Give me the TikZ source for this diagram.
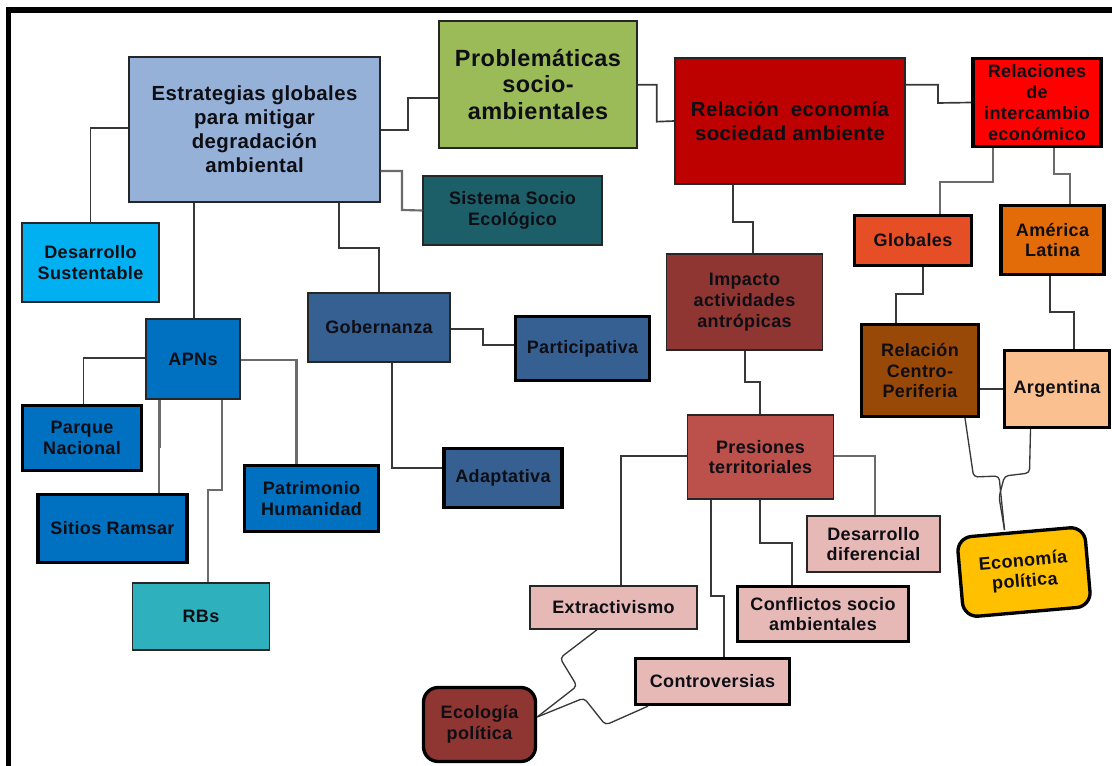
\documentclass[tikz,border=0pt]{standalone}
\usepackage{fontspec}
\setmainfont{Liberation Sans}[LetterSpace=2]
\usetikzlibrary{calc}
\definecolor{cEst}{HTML}{95B1D8}
\definecolor{cPro}{HTML}{9BBB59}
\definecolor{cSus}{HTML}{00B0F0}
\definecolor{cSis}{HTML}{1D5F69}
\definecolor{cGob}{HTML}{376092}
\definecolor{cApn}{HTML}{0070C0}
\definecolor{cRbs}{HTML}{2FB0BD}
\definecolor{cRel}{HTML}{BD0000}
\definecolor{cRin}{HTML}{FF0000}
\definecolor{cGlo}{HTML}{E64F25}
\definecolor{cAme}{HTML}{E36C09}
\definecolor{cImp}{HTML}{8F3632}
\definecolor{cCpe}{HTML}{984807}
\definecolor{cArg}{HTML}{FAC08F}
\definecolor{cPre}{HTML}{BC504B}
\definecolor{cPnk}{HTML}{E6B9B6}
\definecolor{cEpo}{HTML}{FFC000}
\definecolor{cTxt}{HTML}{0E0E14}
\tikzset{
  sized/.style 2 args={minimum width=#1*0.75pt,minimum height=#2*0.75pt},
  bx/.style={draw=black!85,line width=1.1pt,inner sep=0pt,align=center,text=cTxt,font=\fontsize{13.5}{15.6}\selectfont\bfseries},
  hv/.style={bx,draw=black,line width=2.5pt},
  rnd/.style={hv,rounded corners=11pt},
  big/.style={font=\fontsize{15.3}{18}\selectfont\bfseries},
  huge/.style={font=\fontsize{17.6}{20}\selectfont\bfseries},
  conn/.style={draw=black!78,line width=1.25pt,line join=miter},
  pale/.style={draw=black!58,line width=1.6pt},
  wob/.style={conn,rounded corners=3pt,line width=1pt}
}
\begin{document}
\begin{tikzpicture}[x=0.75pt,y=-0.75pt]
\useasboundingbox (0,0) rectangle (1112,766);
\coordinate (fa) at (8.5,766);
\coordinate (fb) at (8.5,10);
\coordinate (fc) at (1112,10);
\draw[black,line width=4.2pt] (fa) -- (fb) -- (fc);
\node[bx,big,fill=cEst,sized={251}{145}] (est) at (254.5,129.5) {Estrategias globales\\para mitigar\\degradación\\ambiental};
\node[bx,huge,fill=cPro,sized={198}{127}] (pro) at (538,84.5) {Problemáticas\\socio-\\ambientales};
\node[bx,fill=cSus,sized={137}{79}] (dsus) at (90.5,262.5) {Desarrollo\\Sustentable};
\node[bx,fill=cSis,sized={179}{69}] (sis) at (512.5,210.5) {Sistema Socio\\Ecológico};
\node[bx,fill=cGob,sized={142}{69}] (gob) at (379,327.5) {Gobernanza};
\node[bx,fill=cApn,sized={94}{80}] (apn) at (193,359) {APNs};
\node[hv,fill=cApn,sized={119}{65}] (par) at (82,438) {Parque\\Nacional};
\node[hv,fill=cApn,sized={149}{68}] (sit) at (112.5,528.5) {Sitios Ramsar};
\node[hv,fill=cApn,sized={134}{66}] (pat) at (311.5,498.5) {Patrimonio\\Humanidad};
\node[bx,fill=cRbs,sized={137}{67}] (rbs) at (201,616.5) {RBs};
\node[hv,fill=cGob,sized={134}{64}] (part) at (582.5,348.5) {Participativa};
\node[hv,fill=cGob,sized={118}{59}] (ada) at (503,478) {Adaptativa};
\node[rnd,fill=cImp,sized={112}{74}] (eco) at (479.5,724.5) {Ecología\\política};
\node[bx,fill=cPre,sized={146}{84}] (pre) at (760.5,457) {Presiones\\territoriales};
\node[bx,fill=cPnk,sized={167}{43}] (ext) at (613.5,607.5) {Extractivismo};
\node[hv,fill=cPnk,sized={171}{55}] (con) at (823,614) {Conflictos socio\\ambientales};
\node[hv,fill=cPnk,sized={154}{46}] (ctr) at (712.5,681.5) {Controversias};
\node[bx,fill=cPnk,sized={133}{56}] (ddi) at (873.5,544) {Desarrollo\\diferencial};
\node[rnd,fill=cEpo,rotate=5,sized={128}{80}] (epo) at (1024,572) {Economía\\política};
\node[bx,big,fill=cRel,sized={230}{126}] (rel) at (790,121) {Relación\ \ economía\\sociedad ambiente};
\node[hv,fill=cRin,sized={128}{88}] (rin) at (1037,102.5) {Relaciones\\de\\intercambio\\económico};
\node[hv,fill=cGlo,sized={117}{50}] (glo) at (913,240.5) {Globales};
\node[hv,fill=cAme,sized={103}{69}] (ame) at (1052.5,240) {América\\Latina};
\node[bx,fill=cImp,sized={156}{96}] (imp) at (744.5,302) {Impacto\\actividades\\antrópicas};
\node[hv,fill=cCpe,sized={117}{92}] (cpe) at (920,370.5) {Relación\\Centro-\\Periferia};
\node[hv,fill=cArg,sized={105}{77}] (arg) at (1057,389) {Argentina};
% connectors
\draw[conn] (est.east |- 0,130) -- (408,130) -- (408,98) -- (pro.west |- 0,98);
\draw[conn] (est.west |- 0,128) -- (90.5,128) -- (dsus.north);
\draw[conn] (est.south -| 194,0) -- (apn.north -| 194,0);
\draw[conn] (est.south -| 339,0) -- (339,248) -- (379,248) -- (gob.north);
\draw[conn,pale] (est.east |- 0,171) -- (402,171) -- (402,210) -- (sis.west);
\draw[conn] (apn.west |- 0,358) -- (83.5,358) -- (par.north -| 83.5,0);
\draw[conn,pale] (apn.south -| 159.5,0) -- (159.5,447) -- (159,447) -- (sit.north -| 159,0);
\draw[conn,pale] (apn.south -| 222,0) -- (222,490) -- (208,490) -- (rbs.north -| 208,0);
\draw[conn,pale] (apn.east |- 0,360) -- (296.5,360) -- (pat.north -| 296.5,0);
\draw[conn] (gob.east |- 0,329) -- (483,329) -- (483,345) -- (part.west |- 0,345);
\draw[conn] (gob.south -| 392,0) -- (392,468) -- (ada.west |- 0,468);
\draw[conn] (pro.east |- 0,84.7) -- (656.7,84.7) -- (656.7,121.7) -- (rel.west);
\draw[conn] (rel.east |- 0,84.7) -- (938,84.7) -- (938,103) -- (rin.west);
\draw[conn] (rel.south -| 733,0) -- (733,222) -- (753,222) -- (imp.north -| 753,0);
\draw[conn,pale] (rin.south -| 992.7,0) -- (992.7,181.7) -- (940,181.7) -- (glo.north -| 940,0);
\draw[conn,pale] (rin.south -| 1053.7,0) -- (1053.7,174.3) -- (1070,174.3) -- (ame.north -| 1070,0);
\draw[conn] (glo.south -| 923,0) -- (923,294.3) -- (896,294.3) -- (cpe.north -| 896,0);
\draw[conn] (ame.south -| 1050,0) -- (1050,312.3) -- (1074,312.3) -- (arg.north -| 1074,0);
\draw[conn] (cpe.east |- 0,389) -- (arg.west |- 0,389);
\draw[conn] (imp.south -| 745.3,0) -- (745.3,382) -- (759.7,382) -- (pre.north -| 759.7,0);
\draw[conn] (pre.west |- 0,456) -- (621,456) -- (ext.north -| 621,0);
\draw[conn] (pre.south -| 711,0) -- (711,596) -- (724,596) -- (ctr.north -| 724,0);
\draw[conn] (pre.south -| 760,0) -- (760,543) -- (792,543) -- (con.north -| 792,0);
\draw[conn,pale] (pre.east |- 0,456) -- (875,456) -- (ddi.north -| 875,0);
\draw[wob] (ext.south -| 597,0) -- (560,658) -- (577,686) -- (eco.east |- 0,717);
\draw[wob] (ctr.south -| 648,0) -- (605.5,725) -- (584,698) -- (eco.east |- 0,717);
\draw[wob] (cpe.south -| 965,0) -- (973.6,477) -- (999,476) -- (1004.5,530);
\draw[wob] (arg.south -| 1030.5,0) -- (1029.5,473) -- (1004.5,476) -- (999,497) -- (1004.5,530);
\end{tikzpicture}
\end{document}
